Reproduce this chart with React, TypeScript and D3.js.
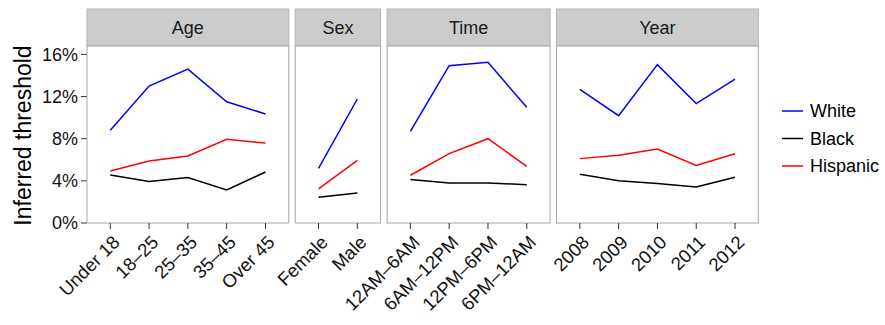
import React from 'react';
import * as d3 from 'd3';

const W = 885;
const H = 325;
const FONT = '"Liberation Sans", Arial, Helvetica, sans-serif';

const facetNames = ['Age', 'Sex', 'Time', 'Year'];

const ageCats = ['Under 18', '18–25', '25–35', '35–45', 'Over 45'];
const sexCats = ['Female', 'Male'];
const timeCats = ['12AM–6AM', '6AM–12PM', '12PM–6PM', '6PM–12AM'];
const yearCats = ['2008', '2009', '2010', '2011', '2012'];

// inferred threshold (%) per race
const ageWhite = [8.8, 13.0, 14.6, 11.5, 10.35];
const ageBlack = [4.55, 3.93, 4.31, 3.13, 4.84];
const ageHispanic = [4.93, 5.88, 6.36, 7.94, 7.59];

const sexWhite = [5.19, 11.77];
const sexBlack = [2.44, 2.85];
const sexHispanic = [3.23, 5.95];

const timeWhite = [8.7, 14.93, 15.25, 10.98];
const timeBlack = [4.12, 3.8, 3.8, 3.64];
const timeHispanic = [4.53, 6.58, 8.0, 5.38];

const yearWhite = [12.68, 10.19, 15.03, 11.33, 13.66];
const yearBlack = [4.62, 4.02, 3.74, 3.42, 4.34];
const yearHispanic = [6.11, 6.42, 7.02, 5.47, 6.58];

const races = ['White', 'Black', 'Hispanic'];
const raceColors = ['#0000ff', '#000000', '#ff0000'];

const yTicks = [0, 4, 8, 12, 16];

const margin = { left: 87, right: 758.3, stripTop: 9, stripBottom: 46, bottom: 223 };
const gap = 6.5;
const tickLen = 6;

const facets = [
  { name: facetNames[0], cats: ageCats, series: [ageWhite, ageBlack, ageHispanic] },
  { name: facetNames[1], cats: sexCats, series: [sexWhite, sexBlack, sexHispanic] },
  { name: facetNames[2], cats: timeCats, series: [timeWhite, timeBlack, timeHispanic] },
  { name: facetNames[3], cats: yearCats, series: [yearWhite, yearBlack, yearHispanic] },
];

export default function App() {
  const y = d3.scaleLinear().domain([0, 16.8]).range([margin.bottom, margin.stripBottom]);

  // panel widths proportional to category count (+0.6 expansion each side)
  const units = facets.map((f) => f.cats.length + 0.2);
  const totalUnits = d3.sum(units);
  const unitW = (margin.right - margin.left - gap * (facets.length - 1)) / totalUnits;
  let cursor = margin.left;
  const panels = facets.map((f, i) => {
    const x0 = cursor;
    const x1 = x0 + units[i] * unitW;
    cursor = x1 + gap;
    const x = d3.scalePoint<string>().domain(f.cats).range([x0, x1]).padding(0.6);
    return { ...f, x0, x1, x };
  });

  const line = d3
    .line<[number, number]>()
    .x((d) => d[0])
    .y((d) => d[1]);

  return (
    <svg
      width={W}
      height={H}
      style={{ position: 'absolute', left: 0, top: 0, background: '#fff' }}
      fontFamily={FONT}
    >
      {/* y axis title */}
      <text
        transform={`translate(31, ${(margin.stripBottom + margin.bottom) / 2 + 1}) rotate(-90)`}
        textAnchor="middle"
        fontSize={23}
        fill="#000"
      >
        Inferred threshold
      </text>

      {/* y axis ticks */}
      {yTicks.map((t) => (
        <g key={t}>
          <line x1={margin.left - tickLen} x2={margin.left} y1={y(t)} y2={y(t)} stroke="#333" strokeWidth={1} />
          <text x={margin.left - tickLen - 3} y={y(t)} dy="0.36em" textAnchor="end" fontSize={18} fill="#111">
            {t}%
          </text>
        </g>
      ))}

      {panels.map((p) => (
        <g key={p.name}>
          {/* strip */}
          <rect
            x={p.x0}
            y={margin.stripTop}
            width={p.x1 - p.x0}
            height={margin.stripBottom - margin.stripTop}
            fill="#cccccc"
            stroke="#b3b3b3"
            strokeWidth={1}
          />
          <text
            x={(p.x0 + p.x1) / 2}
            y={(margin.stripTop + margin.stripBottom) / 2}
            dy="0.36em"
            textAnchor="middle"
            fontSize={18}
            fill="#1a1a1a"
          >
            {p.name}
          </text>
          {/* panel */}
          <rect
            x={p.x0}
            y={margin.stripBottom}
            width={p.x1 - p.x0}
            height={margin.bottom - margin.stripBottom}
            fill="#fff"
            stroke="#a6a6a6"
            strokeWidth={1}
          />
          {p.series.map((vals, si) => (
            <path
              key={si}
              d={line(vals.map((v, i) => [p.x(p.cats[i]) as number, y(v)])) ?? ''}
              fill="none"
              stroke={raceColors[si]}
              strokeWidth={1.5}
            />
          ))}
          {/* x ticks */}
          {p.cats.map((c) => {
            const cx = p.x(c) as number;
            return (
              <g key={c}>
                <line x1={cx} x2={cx} y1={margin.bottom} y2={margin.bottom + tickLen} stroke="#333" strokeWidth={1} />
                <text
                  transform={`translate(${cx + 1}, ${margin.bottom + 11}) rotate(-45)`}
                  dy="0.72em"
                  textAnchor="end"
                  fontSize={18.5}
                  fill="#111"
                >
                  {c}
                </text>
              </g>
            );
          })}
        </g>
      ))}

      {/* legend */}
      {races.map((r, i) => {
        const ly = 111 + i * 27.5;
        return (
          <g key={r}>
            <line x1={782} x2={803} y1={ly} y2={ly} stroke={raceColors[i]} strokeWidth={1.5} />
            <text x={810} y={ly} dy="0.36em" fontSize={18} fill="#000">
              {r}
            </text>
          </g>
        );
      })}
    </svg>
  );
}
